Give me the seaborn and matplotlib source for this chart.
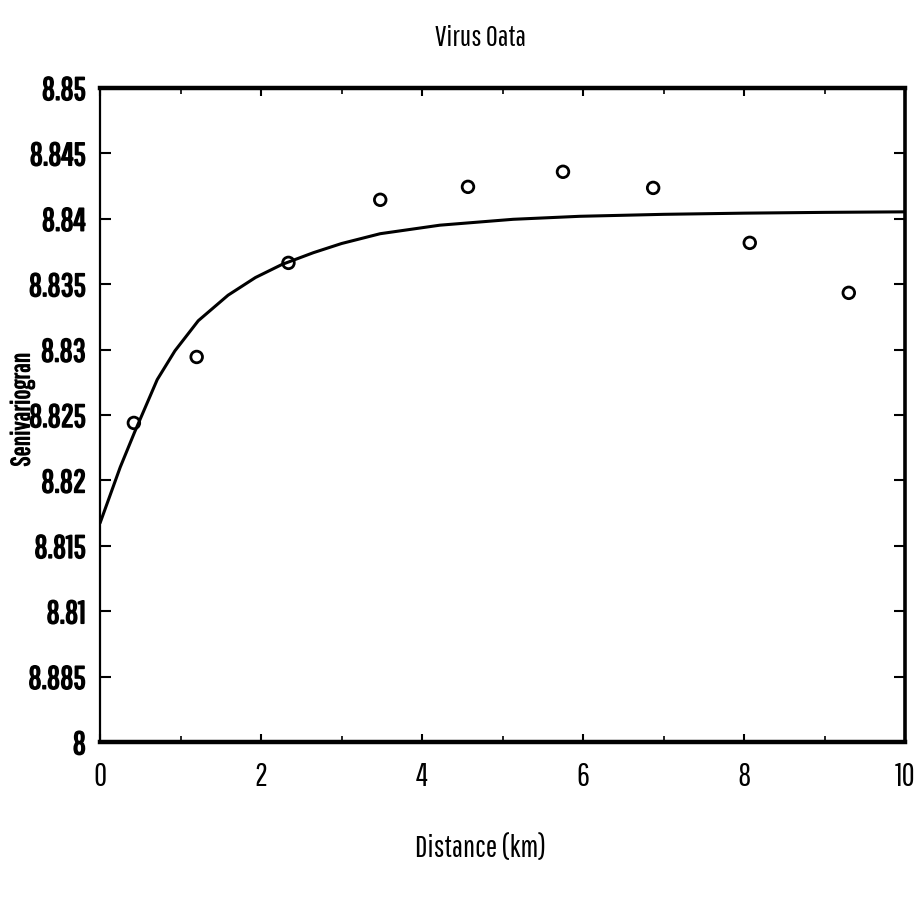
import numpy as np
import matplotlib
matplotlib.use("Agg")
import matplotlib.pyplot as plt
import matplotlib.patheffects as pe
from matplotlib import font_manager
import seaborn as sns
import pandas as pd

lag_km = [0.42, 1.20, 2.34, 3.48, 4.57, 5.75, 6.87, 8.07, 9.30]
semivar = [0.02439, 0.02943, 0.03662, 0.04144, 0.04243, 0.04358, 0.04235, 0.03815, 0.03433]

# fitted model curve, traced points
model_x = [0.0, 0.25, 0.43, 0.71, 0.93, 1.22, 1.59, 1.93, 2.26, 2.65, 3.0, 3.48, 4.22, 5.13, 5.96, 7.0, 8.0, 9.0, 10.0]
model_y = [0.01674, 0.02100, 0.02370, 0.02770, 0.02990, 0.03220, 0.03415, 0.03550, 0.03650,
           0.03740, 0.03810, 0.03885, 0.03950, 0.03995, 0.04018, 0.04033, 0.04042, 0.04048, 0.04052]

ytick_vals = [0, 0.005, 0.01, 0.015, 0.02, 0.025, 0.03, 0.035, 0.04, 0.045, 0.05]
ytick_text = ["8", "8.885", "8.81", "8.815", "8.82", "8.825", "8.83", "8.835", "8.84", "8.845", "8.85"]
xtick_vals = [0, 2, 4, 6, 8, 10]

sns.set_theme(style="ticks")
names = {f.name for f in font_manager.fontManager.ttflist}
narrow = None
for cand in ['Pathway Gothic One', 'Liberation Sans Narrow', 'Roboto Condensed', 'Abel', 'Oswald']:
    if cand in names:
        narrow = cand
        break
if narrow is None:
    narrow = 'DejaVu Sans'
    scale = 0.7
else:
    scale = 1.0
plt.rcParams['font.family'] = [narrow, 'DejaVu Sans']

df_pts = pd.DataFrame({'lag': lag_km, 'gamma': semivar})
df_mod = pd.DataFrame({'lag': model_x, 'gamma': model_y})

fig = plt.figure(figsize=(9.18, 9.05), dpi=100)
ax = fig.add_axes([0.109, 0.180, 0.877, 0.723])

sns.lineplot(data=df_mod, x='lag', y='gamma', ax=ax, color='black', lw=2.2,
             sort=False, estimator=None)
sns.scatterplot(data=df_pts, x='lag', y='gamma', ax=ax, marker='o', s=70,
                facecolor='none', edgecolor='black', linewidth=2.0)

ax.set_xlim(0, 10)
ax.set_ylim(0, 0.05)
ax.set_xticks(xtick_vals)
ax.set_xticks(range(11), minor=True)
ax.set_yticks(ytick_vals)
ax.set_yticklabels(ytick_text, fontsize=23 * scale, fontweight='bold', color='black')
ax.set_xticklabels([str(v) for v in xtick_vals], fontsize=23 * scale, color='black')
bold = [pe.withStroke(linewidth=1.2, foreground='black')]
for t in ax.get_yticklabels():
    t.set_path_effects(bold)

ax.tick_params(axis='both', which='both', direction='in', top=True, right=True, color='black')
ax.tick_params(axis='y', which='major', length=8, width=1.5, pad=10)
ax.tick_params(axis='x', which='major', length=6, width=1.5, pad=14)
ax.tick_params(axis='x', which='minor', length=4, width=1.2)

for side, w in [('top', 3.2), ('bottom', 3.2), ('left', 1.6), ('right', 2.6)]:
    ax.spines[side].set_visible(True)
    ax.spines[side].set_linewidth(w)
    ax.spines[side].set_color('black')

ax.set_xlabel('')
ax.set_ylabel('')
fig.text(0.523, 0.958, 'Virus Oata', ha='center', va='center', fontsize=21 * scale, color='black')
fig.text(0.523, 0.062, 'Distance (km)', ha='center', va='center', fontsize=22 * scale, color='black')
fig.text(0.024, 0.547, 'Senivariogran', ha='center', va='center', rotation=90,
         fontsize=19 * scale, color='black',
         path_effects=[pe.withStroke(linewidth=0.8, foreground='black')])

fig.savefig('out.png', dpi=100)
